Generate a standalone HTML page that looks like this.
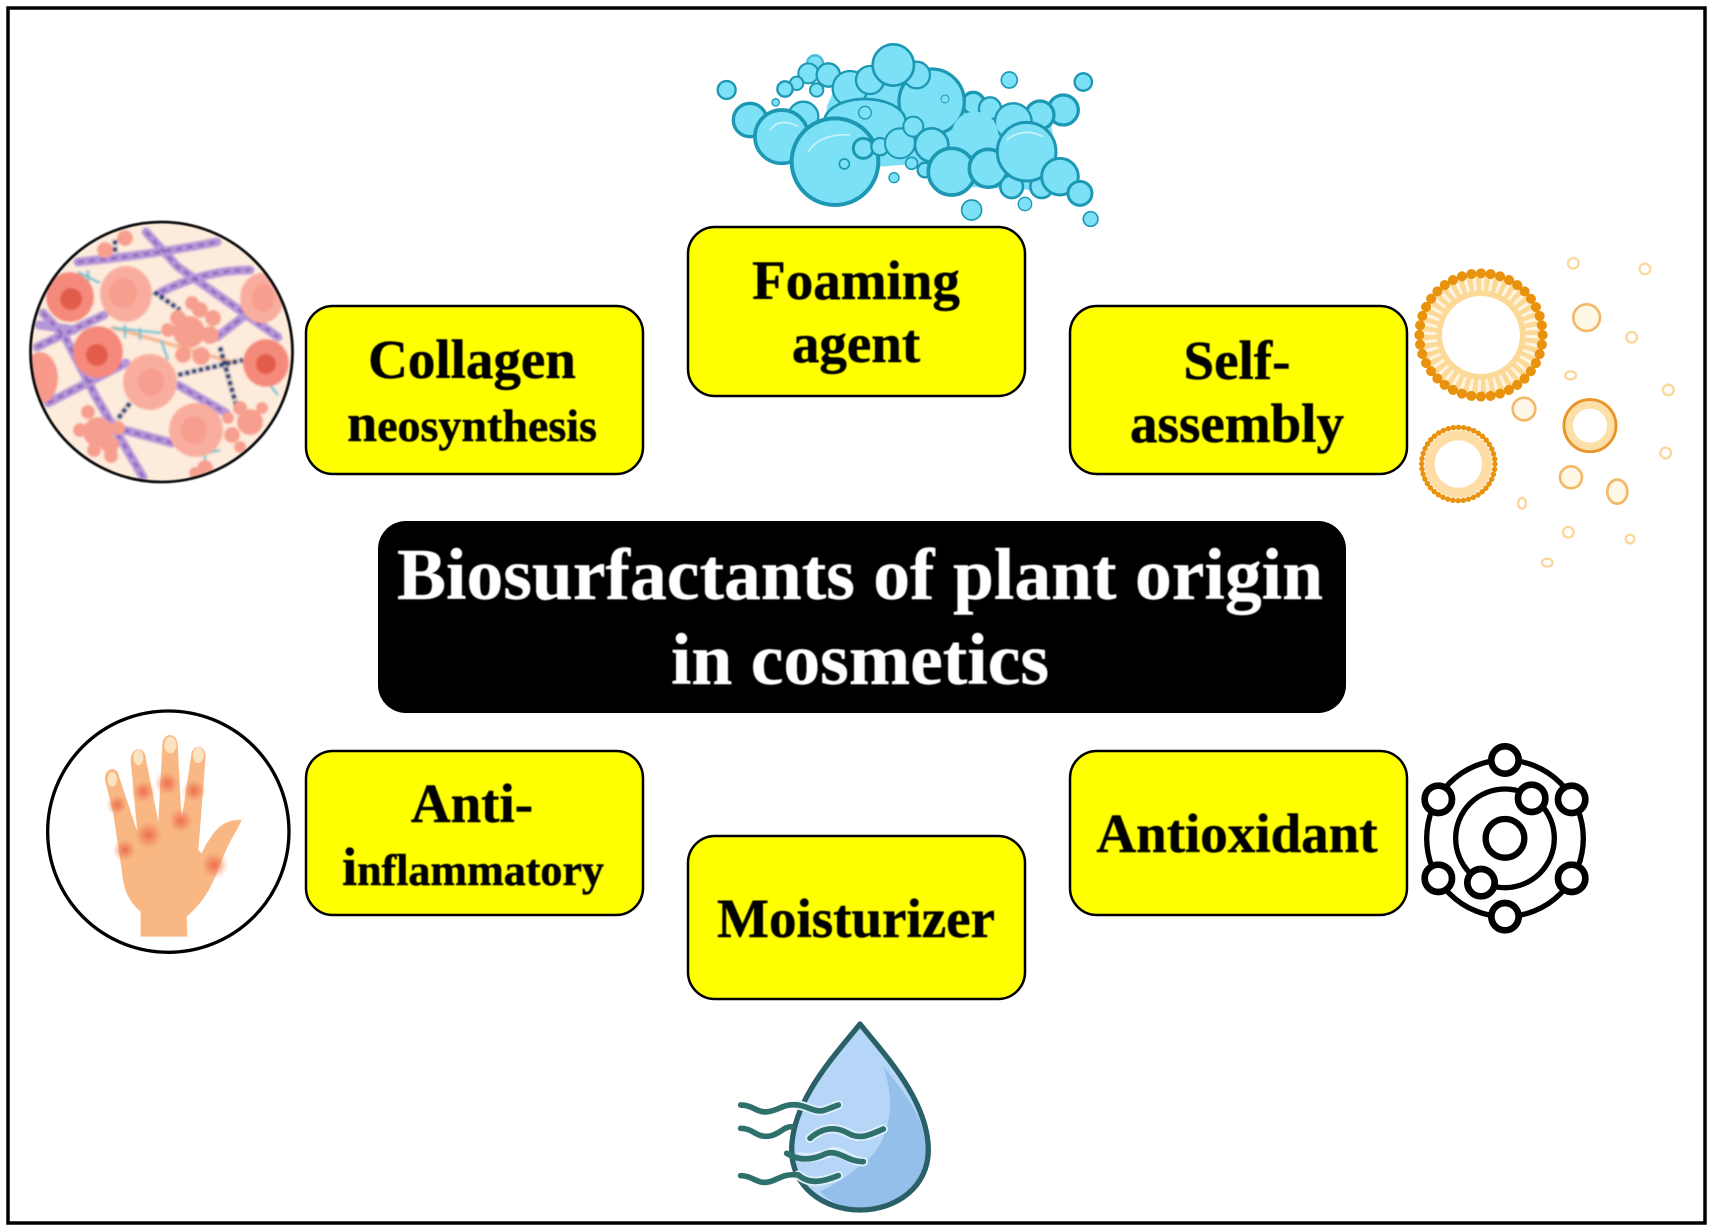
<!DOCTYPE html>
<html lang="en">
<head>
<meta charset="utf-8">
<title>Biosurfactants of plant origin in cosmetics</title>
<style>
html,body{margin:0;padding:0;background:#fff;width:1714px;height:1232px;overflow:hidden}
svg{display:block}
text{font-family:"Liberation Serif",serif;font-weight:700;text-anchor:middle;fill:#000;stroke:#000;stroke-width:.5}
</style>
</head>
<body>
<svg width="1714" height="1232" viewBox="0 0 1714 1232" xmlns="http://www.w3.org/2000/svg">
<defs>
<filter id="b" x="-5%" y="-5%" width="110%" height="110%"><feGaussianBlur stdDeviation="0.6"/></filter>
<filter id="b2" x="-5%" y="-5%" width="110%" height="110%"><feGaussianBlur stdDeviation="1"/></filter>
<clipPath id="cc"><ellipse cx="161.5" cy="352" rx="131" ry="130"/></clipPath>
<radialGradient id="sp"><stop offset="0" stop-color="#ec5f42" stop-opacity=".85"/><stop offset=".5" stop-color="#ee7a58" stop-opacity=".5"/><stop offset="1" stop-color="#f9b883" stop-opacity="0"/></radialGradient>
</defs>
<rect width="1714" height="1232" fill="#fff"/>
<rect x="8" y="8" width="1697" height="1215" fill="none" stroke="#000" stroke-width="3.5"/>

<!-- Collagen illustration -->
<g filter="url(#b2)">
<ellipse cx="161.5" cy="352" rx="131" ry="130" fill="#fdebdc"/>
<g clip-path="url(#cc)">
<g fill="none" stroke="#b596d8" stroke-width="9" stroke-linecap="round">
<path d="M78 262Q150 255 217 242M146 232L178 267L278 337M161 292Q205 270 250 270M37 347L104 315M43 313L65 337L96 397L143 477M48 403L126 363M39 325L74 330M124 430L172 443M178 385L226 413M217 337L243 317"/>
</g>
<g fill="none" stroke="#8a5fb8" stroke-width="2.5" stroke-dasharray="6 5">
<path d="M78 262Q150 255 217 242M146 232L178 267L278 337M161 292Q205 270 250 270M37 347L104 315M43 313L65 337L96 397L143 477M48 403L126 363M124 430L172 443M178 385L226 413M217 337L243 317"/>
</g>
<g fill="none" stroke="#f6bb93" stroke-width="4"><path d="M111 327L235 363"/></g>
<g fill="none" stroke="#1f3f7d" stroke-width="5" stroke-dasharray="5 2"><path d="M154 292L180 310M178 375L243 360M220 347L237 408M130 403L117 420M115 240L115 253"/></g>
<g fill="none" stroke="#69c5d2" stroke-width="2.5"><path d="M78 272L100 283M88 270V285M113 328L161 333M125 325V338M140 328V340M161 340L168 360M198 455L220 450M205 450V462M270 385L278 395"/></g>
<g fill="#f79f8e">
<circle cx="189" cy="332" r="16"/><circle cx="178" cy="318" r="8"/><circle cx="200" cy="310" r="8"/><circle cx="213" cy="318" r="8"/><circle cx="210" cy="335" r="9"/><circle cx="192" cy="303" r="7"/><circle cx="183" cy="355" r="8"/><circle cx="201" cy="356" r="9"/><circle cx="168" cy="330" r="7"/>
<circle cx="98" cy="432" r="15"/><circle cx="80" cy="430" r="7"/><circle cx="88" cy="412" r="7"/><circle cx="110" cy="445" r="9"/><circle cx="94" cy="450" r="7"/><circle cx="118" cy="428" r="7"/><circle cx="111" cy="456" r="7"/>
<circle cx="250" cy="422" r="13"/><circle cx="232" cy="435" r="8"/><circle cx="240" cy="408" r="7"/><circle cx="262" cy="408" r="6"/><circle cx="228" cy="418" r="6"/><circle cx="240" cy="447" r="6"/>
<circle cx="105" cy="250" r="8"/><circle cx="125" cy="238" r="8"/><circle cx="205" cy="468" r="8"/><circle cx="195" cy="473" r="6"/>
</g>
<ellipse cx="70" cy="297" rx="24" ry="25" fill="#f58a7c"/><circle cx="71" cy="299" r="11" fill="#e25b4c"/>
<ellipse cx="126" cy="294" rx="26" ry="28" fill="#f9ad9e"/><ellipse cx="123" cy="293" rx="14" ry="15" fill="#f89e8e"/>
<ellipse cx="262" cy="298" rx="22" ry="25" fill="#f9ad9e"/><ellipse cx="263" cy="298" rx="11" ry="14" fill="#f89e8e"/>
<ellipse cx="98" cy="352" rx="25" ry="26" fill="#f58a7c"/><circle cx="97" cy="355" r="11" fill="#e25b4c"/>
<ellipse cx="150" cy="382" rx="27" ry="28" fill="#f9ad9e"/><ellipse cx="151" cy="382" rx="13" ry="14" fill="#f89e8e"/>
<ellipse cx="266" cy="363" rx="23" ry="24" fill="#f58a7c"/><circle cx="266" cy="364" r="10" fill="#e25b4c"/>
<ellipse cx="196" cy="430" rx="27" ry="27" fill="#f9ad9e"/><ellipse cx="194" cy="430" rx="13" ry="14" fill="#f89e8e"/>
<ellipse cx="40" cy="378" rx="18" ry="26" fill="#f79a8a"/>
</g>
</g>
<ellipse cx="161.5" cy="352" rx="131" ry="130" fill="none" stroke="#111" stroke-width="2.8" filter="url(#b)"/>

<!-- Foam -->
<g transform="translate(680 20) scale(.3333)" filter="url(#b2)" fill="#7ce1f6" stroke="#1f98b5" stroke-width="10">
<path d="M440 260L480 170L640 110L850 230L1110 290L1130 420L1060 510L850 500L730 430L600 440L440 400Z" stroke="none"/>
<circle cx="140" cy="210" r="27" stroke-width="7"/><circle cx="287" cy="247" r="11" stroke-width="4"/>
<circle cx="405" cy="130" r="24" stroke="#49bcd6" stroke-width="7"/><circle cx="385" cy="160" r="30" stroke-width="6"/><circle cx="445" cy="165" r="35" stroke-width="7"/><circle cx="350" cy="190" r="20" stroke-width="6"/><circle cx="315" cy="207" r="23" stroke-width="7"/><circle cx="410" cy="210" r="20" stroke-width="6"/>
<circle cx="210" cy="300" r="50"/><circle cx="370" cy="290" r="45" stroke-width="7"/>
<circle cx="1150" cy="270" r="45"/><circle cx="1080" cy="285" r="42"/><circle cx="880" cy="250" r="33"/><circle cx="930" cy="265" r="33" stroke-width="7"/><circle cx="1000" cy="305" r="55" stroke-width="7"/>
<circle cx="510" cy="205" r="52" stroke-width="7"/><circle cx="755" cy="245" r="98"/>
<circle cx="710" cy="165" r="40" stroke-width="7"/><circle cx="570" cy="180" r="42" stroke-width="7"/><circle cx="640" cy="135" r="62" stroke-width="8"/>
<ellipse cx="555" cy="305" rx="122" ry="68" stroke-width="8"/>
<circle cx="305" cy="350" r="80" stroke-width="11"/><circle cx="465" cy="425" r="130" stroke-width="12"/>
<circle cx="885" cy="345" r="70" stroke="none"/>
<circle cx="550" cy="385" r="30" stroke-width="9"/><circle cx="600" cy="380" r="26" stroke-width="7"/><circle cx="660" cy="370" r="45" stroke-width="6"/><circle cx="700" cy="320" r="30" stroke-width="6"/><circle cx="735" cy="450" r="22" stroke-width="7"/><circle cx="695" cy="430" r="18" stroke-width="5"/><circle cx="755" cy="375" r="50" stroke-width="8"/>
<circle cx="815" cy="455" r="70" stroke-width="11"/><circle cx="925" cy="445" r="57" stroke-width="11"/><circle cx="995" cy="500" r="34" stroke-width="8"/><circle cx="1085" cy="500" r="34" stroke-width="8"/><circle cx="1040" cy="395" r="88" stroke-width="9"/><circle cx="1140" cy="470" r="55" stroke-width="9"/><circle cx="1200" cy="520" r="36" stroke-width="9"/>
<circle cx="875" cy="570" r="30" stroke-width="5"/><circle cx="1035" cy="552" r="20" stroke-width="4"/><circle cx="1232" cy="597" r="22" stroke-width="5"/><circle cx="642" cy="473" r="15" stroke-width="4"/><circle cx="988" cy="180" r="24" stroke-width="5"/><circle cx="1210" cy="186" r="26" stroke-width="7"/>
<circle cx="493" cy="432" r="15" stroke-width="5"/><circle cx="555" cy="278" r="19" stroke-width="4"/><circle cx="795" cy="237" r="12" stroke-width="3"/>
<path d="M385 395Q420 340 510 345M270 330Q300 290 355 320M980 360Q1030 320 1090 350" fill="none" stroke="#c9f3fb" stroke-width="5"/>
</g>

<!-- Lipid vesicles -->
<g transform="translate(1380 240) scale(.3333)" filter="url(#b2)" fill="none">
<circle cx="303" cy="285" r="148" stroke="#fdd998" stroke-width="62"/>
<circle cx="303" cy="285" r="158" stroke="#fff" stroke-width="48" pathLength="40" stroke-dasharray=".4 .6" opacity=".7"/>
<circle cx="303" cy="285" r="185" stroke="#e8920f" stroke-width="30" stroke-linecap="round" pathLength="40" stroke-dasharray=".01 .99"/>
<circle cx="235" cy="672" r="86" stroke="#fdddA5" stroke-width="30"/>
<circle cx="235" cy="672" r="110" stroke="#e8920f" stroke-width="16" stroke-linecap="round" pathLength="44" stroke-dasharray=".05 .95"/>
<circle cx="630" cy="557" r="62" stroke="#fde0a8" stroke-width="22"/>
<circle cx="630" cy="557" r="78" stroke="#e9952a" stroke-width="9"/>
<g stroke="#f3b968" stroke-width="8">
<circle cx="620" cy="233" r="40" fill="#fff8e6"/>
<circle cx="432" cy="507" r="34" fill="#fff8e6"/>
<circle cx="573" cy="712" r="33" fill="#fff8e6"/>
<ellipse cx="712" cy="755" rx="30" ry="36" fill="#fff8e6"/>
</g>
<g stroke="#fbd79b" stroke-width="7">
<circle cx="580" cy="70" r="16"/><circle cx="795" cy="87" r="16"/><circle cx="755" cy="292" r="16"/><ellipse cx="572" cy="406" rx="16" ry="12"/><circle cx="865" cy="450" r="16"/><circle cx="857" cy="639" r="16"/><ellipse cx="426" cy="790" rx="12" ry="16"/><circle cx="565" cy="877" r="16"/><circle cx="750" cy="897" r="13"/><ellipse cx="502" cy="968" rx="16" ry="12"/>
</g>
</g>

<!-- Hand -->
<g transform="translate(30 700) scale(.3333)" filter="url(#b)">
<circle cx="415" cy="395" r="362" fill="#fff" stroke="#000" stroke-width="10"/>
<path d="M332 710L332 635C290 600 280 560 275 510L250 340L225 240A21 28 0 0 1 268 232L322 395L302 180A23 32 0 0 1 348 178L385 365L397 135A23 30 0 0 1 443 135L455 360L483 170A22 30 0 0 1 527 170L505 450L515 460C540 410 570 355 635 360C625 385 600 420 580 470C555 530 540 590 470 650L472 710Z" fill="#f9b883"/>
<g fill="#fbe3c0"><ellipse cx="247" cy="238" rx="14" ry="22"/><ellipse cx="325" cy="172" rx="15" ry="24"/><ellipse cx="421" cy="135" rx="18" ry="25"/><ellipse cx="505" cy="165" rx="16" ry="24"/></g>
<g fill="url(#sp)"><circle cx="262" cy="315" r="34"/><circle cx="340" cy="275" r="38"/><circle cx="412" cy="250" r="40"/><circle cx="492" cy="272" r="38"/><circle cx="355" cy="405" r="48"/><circle cx="452" cy="362" r="42"/><circle cx="285" cy="450" r="38"/><circle cx="552" cy="495" r="44"/></g>
</g>

<!-- Atom -->
<g transform="translate(1400 730) scale(.3333)" filter="url(#b2)" fill="none" stroke="#000">
<circle cx="315" cy="325" r="235" stroke-width="16"/>
<circle cx="315" cy="325" r="148" stroke-width="16"/>
<circle cx="315" cy="325" r="58" stroke-width="19"/>
<g fill="#fff" stroke-width="20">
<circle cx="315" cy="90" r="41"/><circle cx="115" cy="208" r="41"/><circle cx="515" cy="208" r="41"/><circle cx="115" cy="445" r="41"/><circle cx="515" cy="445" r="41"/><circle cx="315" cy="560" r="41"/><circle cx="395" cy="205" r="41"/><circle cx="243" cy="458" r="41"/>
</g>
</g>

<!-- Drop -->
<g transform="translate(720 1010) scale(.3333)" filter="url(#b2)">
<path d="M420 42C350 130 215 270 215 420C215 530 310 600 420 600C530 600 625 530 625 420C625 270 490 130 420 42Z" fill="#b5d6f6"/>
<path d="M490 170C530 280 510 400 430 460C390 495 340 525 300 545C340 585 380 592 420 592C530 592 617 520 617 420C617 320 540 230 490 170Z" fill="#93bfea"/>
<path d="M420 42C350 130 215 270 215 420C215 530 310 600 420 600C530 600 625 530 625 420C625 270 490 130 420 42Z" fill="none" stroke="#2a6068" stroke-width="16" stroke-linejoin="round"/>
<g fill="none" stroke-linecap="round">
<path d="M235 285C265 290 290 310 315 300L355 285M270 385C310 350 350 350 385 370C420 390 450 375 490 357M240 440C280 450 320 430 340 425C370 425 390 455 430 455M235 495C270 525 310 515 355 497" stroke="#dceefc" stroke-width="28"/>
<path d="M62 285C100 285 110 310 145 305C180 300 190 280 235 285C265 290 290 310 315 300L355 285M62 355C100 355 110 385 150 378C180 372 190 350 215 350M270 385C310 350 350 350 385 370C420 390 450 375 490 357M200 430C240 455 280 450 320 430C360 420 380 455 430 455M62 497C100 497 110 525 150 515C180 505 195 490 235 495C270 525 310 515 355 497" stroke="#2f6f6c" stroke-width="17"/>
</g>
</g>

<!-- Boxes -->
<g fill="#ffff00" stroke="#000" stroke-width="2.5">
<rect x="688" y="227" width="337" height="169" rx="27"/>
<rect x="306" y="306" width="337" height="168" rx="27"/>
<rect x="1070" y="306" width="337" height="168" rx="27"/>
<rect x="306" y="751" width="337" height="164" rx="27"/>
<rect x="1070" y="751" width="337" height="164" rx="27"/>
<rect x="688" y="836" width="337" height="163" rx="27"/>
</g>
<rect x="378" y="521" width="968" height="192" rx="28" fill="#000"/>

<!-- Labels -->
<g filter="url(#b)">
<text x="856" y="299" font-size="55">Foaming</text>
<text x="856" y="362" font-size="55">agent</text>
<text x="472" y="378" font-size="55">Collagen</text>
<text x="472" y="441" font-size="46"><tspan font-size="54">n</tspan>eosynthesis</text>
<text x="1237" y="379" font-size="55">Self-</text>
<text x="1237" y="442" font-size="55">assembly</text>
<text x="472" y="822" font-size="55">Anti-</text>
<text x="473" y="885" font-size="44"><tspan font-size="54">i</tspan>nflammatory</text>
<text x="1237" y="852" font-size="55">Antioxidant</text>
<text x="856" y="937" font-size="55">Moisturizer</text>
<text x="860" y="599" font-size="73.6" style="fill:#fff;stroke:#fff;stroke-width:.4">Biosurfactants of plant origin</text>
<text x="860" y="684" font-size="73.6" style="fill:#fff;stroke:#fff;stroke-width:.4">in cosmetics</text>
</g>
</svg>
</body>
</html>
